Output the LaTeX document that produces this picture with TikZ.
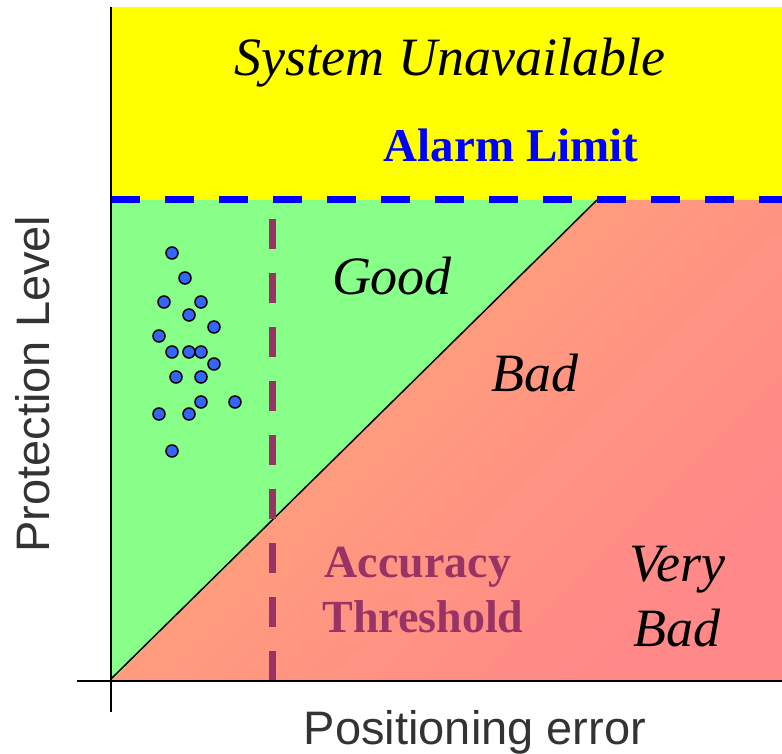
\documentclass[tikz,border=0pt]{standalone}
\usepackage{fontspec}
\setmainfont{Liberation Serif}
\setsansfont{Liberation Sans}
\usetikzlibrary{positioning}
\definecolor{unavail}{HTML}{FFFF00}
\definecolor{goodgreen}{HTML}{88FF88}
\definecolor{badorange}{HTML}{FFA878}
\definecolor{badpink}{HTML}{FF8888}
\definecolor{alarmblue}{HTML}{0000FF}
\definecolor{thresh}{HTML}{993366}
\definecolor{dotblue}{HTML}{3366FF}
\definecolor{axisgray}{HTML}{333333}
\tikzset{
  zone/.style={font=\fontsize{54}{60}\selectfont\itshape, anchor=base, inner sep=0pt},
  limit/.style={font=\fontsize{47}{52}\selectfont\bfseries, anchor=base, inner sep=0pt},
  axislabel/.style={font=\fontsize{47}{52}\selectfont\sffamily, text=axisgray, anchor=base, inner sep=0pt},
  sample/.style={circle, draw=black, line width=1.5pt, fill=dotblue, minimum size=12pt, inner sep=0pt},
  axisline/.style={line width=2.2pt, draw=black},
  limitline/.style={line width=7pt, dash pattern=on 29pt off 25pt},
}

\begin{document}
\begin{tikzpicture}[x=1pt, y=1pt]
  \useasboundingbox (-111,-73) rectangle (671,681);

  % regions
  \fill[unavail] (0,481) rectangle (671,674);
  \fill[goodgreen] (0,0) -- (0,481) -- (486,481) -- cycle;
  \shade[top color=badorange, bottom color=badpink, shading angle=45]
    (0,0) -- (486,481) -- (671,481) -- (671,0) -- cycle;
  \draw[line width=1.5pt] (0,2) -- (486,481);

  % alarm limit and accuracy threshold
  \draw[limitline, alarmblue] (0,481) -- (671,481);
  \draw[limitline, thresh, dash pattern=on 30pt off 24pt] (161,0) -- (161,481);

  \draw[axisline] (0,-31) -- (0,674);
  \draw[axisline] (-34,0) -- (671,0);

  \foreach \x/\y [count=\i] in {61/428, 74/403, 53/379, 90/379, 78/366, 103/354,
      48/345, 61/329, 78/329, 90/329, 103/317, 65/304, 90/304, 90/279, 124/279,
      48/267, 78/267, 61/230}
    \node[sample] (pt\i) at (\x,\y) {};

  \node[zone] (unavailable) at (339,605) {System Unavailable};
  \node[limit, text=alarmblue] (alarm) at (400,519) {Alarm Limit};
  \node[zone] (good) at (281,386) {Good};
  \node[zone] (bad) at (424,289) {Bad};
  \node[limit, text=thresh, font=\fontsize{46}{52}\selectfont\bfseries] (accuracy) at (307,103) {Accuracy};
  \node[limit, text=thresh, font=\fontsize{46}{52}\selectfont\bfseries] (threshold) at ([xshift=5pt, yshift=-55pt]accuracy.base) {Threshold};
  \node[zone] (very) at (566,99) {Very};
  \node[zone] (verybad) at ([yshift=-65pt]very.base) {Bad};

  \node[axislabel] (xlabel) at (364,-64) {Positioning error};
  \node[axislabel, rotate=90] (ylabel) at (-61,297) {Protection Level};
\end{tikzpicture}
\end{document}
